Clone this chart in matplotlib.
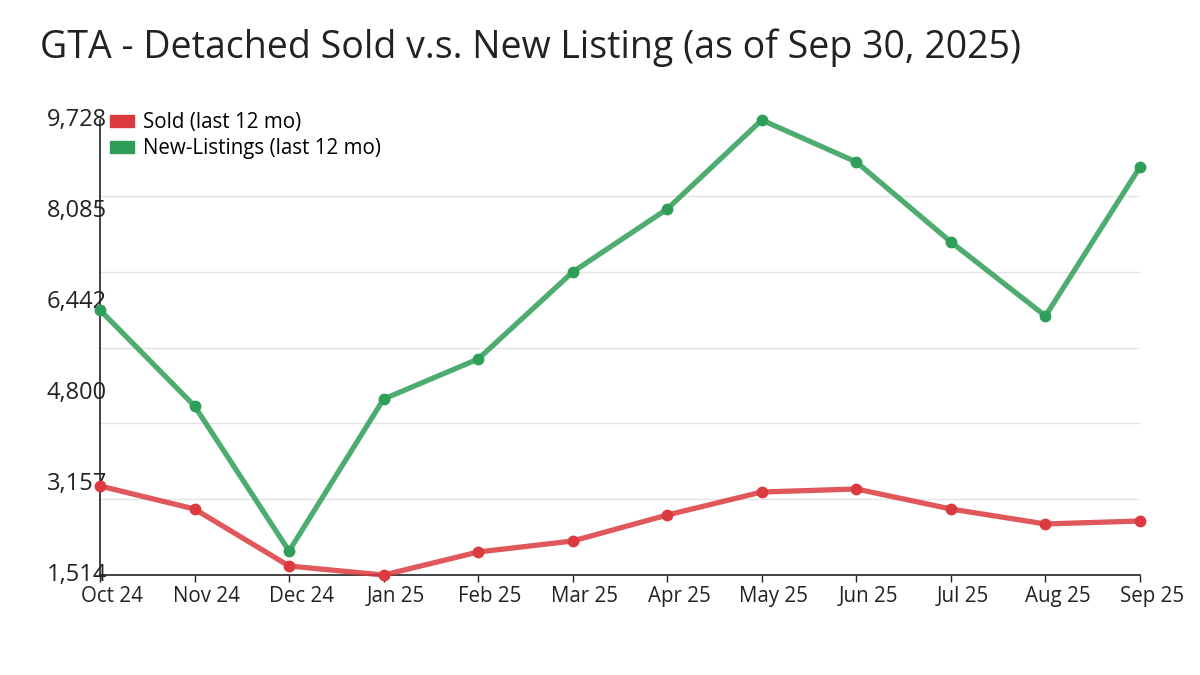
import matplotlib
matplotlib.use("Agg")
import matplotlib.pyplot as plt
import matplotlib.transforms as mtransforms
from matplotlib.ticker import FixedLocator
from matplotlib.patches import Patch

months = ["Oct 24", "Nov 24", "Dec 24", "Jan 25", "Feb 25", "Mar 25",
          "Apr 25", "May 25", "Jun 25", "Jul 25", "Aug 25", "Sep 25"]
sold = [3121, 2705, 1676, 1514, 1929, 2128, 2597, 3012, 3067, 2705, 2435, 2489]
new_listings = [6298, 4565, 1947, 4691, 5413, 6984, 8122, 9728, 8970, 7526, 6190, 8880]
y_labels = [1514, 3157, 4800, 6442, 8085, 9728]
y_min, y_max = 1514, 9728

plt.rcParams['font.family'] = ['Open Sans', 'DejaVu Sans']

red = "#db3b3e"
green = "#2f9e58"

fig = plt.figure(figsize=(12, 6.75), dpi=100)
ax = fig.add_axes([100/1200, 1-575/675, 1040/1200, 455/675])

x = list(range(len(months)))
ax.plot(x, sold, color=red, lw=3.8, alpha=0.85, solid_capstyle='round', zorder=3, clip_on=False)
ax.plot(x, sold, 'o', color=red, ms=7.5, zorder=4, clip_on=False)
ax.plot(x, new_listings, color=green, lw=3.8, alpha=0.85, solid_capstyle='round', zorder=3, clip_on=False)
ax.plot(x, new_listings, 'o', color=green, ms=7.5, zorder=4, clip_on=False)

ax.set_xlim(0, len(months) - 1)
ax.set_ylim(y_min, y_max)

ax.set_xticks(x)
ax.set_xticklabels(months, fontsize=14.8, color="#222222")
ax.tick_params(axis='x', length=5, width=1, pad=3, colors="#222222")
offset = mtransforms.ScaledTranslation(12/100, 0, fig.dpi_scale_trans)
for lbl in ax.get_xticklabels():
    lbl.set_transform(lbl.get_transform() + offset)

ax.set_yticks(y_labels)
ax.set_yticklabels([f"{v:,}" for v in y_labels], fontsize=17, color="#222222")
ax.tick_params(axis='y', length=0, pad=-5)
for lbl in ax.get_yticklabels():
    lbl.set_verticalalignment('center')

step = (y_max - y_min) / 6
grid_vals = [y_min + step * i for i in range(1, 7)]
ax.yaxis.set_minor_locator(FixedLocator(grid_vals))
ax.tick_params(axis='y', which='minor', length=0)
ax.grid(axis='y', which='minor', color="#e3e3e3", lw=1)
ax.grid(axis='y', which='major', visible=False)
ax.set_axisbelow(True)

for s in ['top', 'right']:
    ax.spines[s].set_visible(False)
for s in ['left', 'bottom']:
    ax.spines[s].set_color("#222222")
    ax.spines[s].set_linewidth(1.2)

handles = [Patch(color=red, label="Sold (last 12 mo)"),
           Patch(color=green, label="New-Listings (last 12 mo)")]
ax.legend(handles=handles, loc='upper left', bbox_to_anchor=(0.0015, 1.035),
          frameon=False, fontsize=14.8, handlelength=1.2, handleheight=0.55,
          handletextpad=0.4, labelspacing=0.25, borderaxespad=0)

fig.text(40/1200, 1-48/675, "GTA - Detached Sold v.s. New Listing (as of Sep 30, 2025)",
         fontsize=27, va='center', ha='left', color="#222222")

fig.savefig("out.png", dpi=100)
